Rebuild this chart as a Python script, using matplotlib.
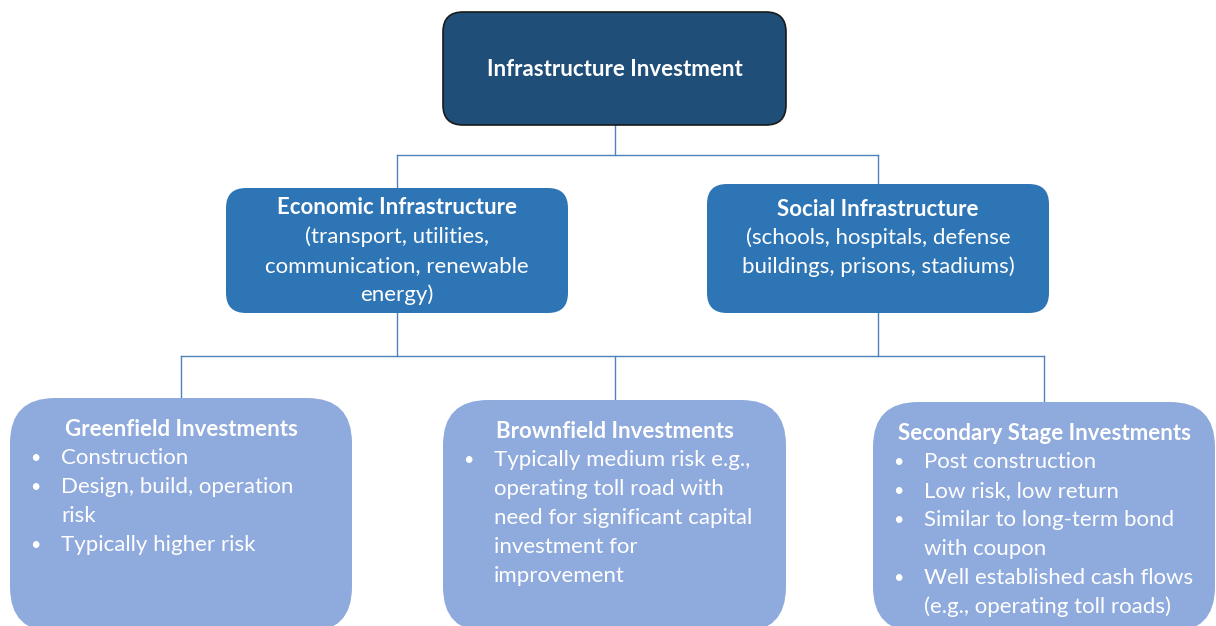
import matplotlib.pyplot as plt
from matplotlib.patches import FancyBboxPatch

plt.rcParams['font.family'] = ['Lato', 'DejaVu Sans']

W, H = 1216, 626

root_title = 'Infrastructure Investment'
mid_titles = ['Economic Infrastructure', 'Social Infrastructure']
mid_lines = [['(transport, utilities,', 'communication, renewable', 'energy)'],
             ['(schools, hospitals, defense', 'buildings, prisons, stadiums)']]
leaf_titles = ['Greenfield Investments', 'Brownfield Investments',
               'Secondary Stage Investments']
leaf_bullets = [
    [['Construction'], ['Design, build, operation', 'risk'], ['Typically higher risk']],
    [['Typically medium risk e.g.,', 'operating toll road with',
      'need for significant capital', 'investment for', 'improvement']],
    [['Post construction'], ['Low risk, low return'],
     ['Similar to long-term bond', 'with coupon'],
     ['Well established cash flows', '(e.g., operating toll roads)']],
]

# box geometry in pixels: x0, y0, x1, y1
root_box = (443, 12, 786, 125)
mid_boxes = [(226, 188, 568, 313), (707, 184, 1049, 313)]
leaf_boxes = [(10, 398, 352, 632), (443, 400, 786, 632), (873, 402, 1215, 632)]
mid_title_y = [208, 209]

c_root = '#1f4e79'
c_mid = '#2e75b6'
c_leaf = '#8faadc'
c_line = '#4f81bd'
fs = 16
step = 29

fig = plt.figure(figsize=(W / 100, H / 100), dpi=100)
ax = fig.add_axes([0, 0, 1, 1])
ax.set_xlim(0, W)
ax.set_ylim(H, 0)
ax.axis('off')


def box(b, color, r, edge='none'):
    x0, y0, x1, y1 = b
    p = FancyBboxPatch((x0, y0), x1 - x0, y1 - y0,
                       boxstyle='round,pad=0,rounding_size=%d' % r,
                       fc=color, ec=edge, lw=1.2, zorder=2)
    ax.add_patch(p)


def cx(b):
    return (b[0] + b[2]) / 2


# connectors
ax.plot([cx(root_box)] * 2, [root_box[3], 155], color=c_line, lw=1, zorder=1)
ax.plot([cx(mid_boxes[0]), cx(mid_boxes[1])], [155, 155], color=c_line, lw=1, zorder=1)
for b in mid_boxes:
    ax.plot([cx(b)] * 2, [155, b[1]], color=c_line, lw=1, zorder=1)
    ax.plot([cx(b)] * 2, [b[3], 356], color=c_line, lw=1, zorder=1)
ax.plot([cx(leaf_boxes[0]), cx(leaf_boxes[2])], [356, 356], color=c_line, lw=1, zorder=1)
for b in leaf_boxes:
    ax.plot([cx(b)] * 2, [356, b[1]], color=c_line, lw=1, zorder=1)

# root
box(root_box, c_root, 20, edge='#1a1a1a')
ax.text(cx(root_box), 69, root_title, color='white', fontsize=fs, fontweight='bold',
        ha='center', va='center', zorder=3)

# middle level
for b, t, lines, ty in zip(mid_boxes, mid_titles, mid_lines, mid_title_y):
    box(b, c_mid, 20)
    ax.text(cx(b), ty, t, color='white', fontsize=fs, fontweight='bold',
            ha='center', va='center', zorder=3)
    for i, ln in enumerate(lines):
        ax.text(cx(b), ty + step * (i + 1), ln, color='white', fontsize=fs,
                ha='center', va='center', zorder=3)

# leaves
for b, t, bullets in zip(leaf_boxes, leaf_titles, leaf_bullets):
    box(b, c_leaf, 45)
    ty = b[1] + 31
    ax.text(cx(b), ty, t, color='white', fontsize=fs, fontweight='bold',
            ha='center', va='center', zorder=3)
    k = 1
    for item in bullets:
        ax.text(b[0] + 25, ty + step * k, '\u2022', color='white', fontsize=fs * 0.8,
                ha='center', va='center', zorder=3)
        for ln in item:
            ax.text(b[0] + 51, ty + step * k, ln, color='white', fontsize=fs,
                    ha='left', va='center', zorder=3)
            k += 1

plt.savefig('out.png', dpi=100)
